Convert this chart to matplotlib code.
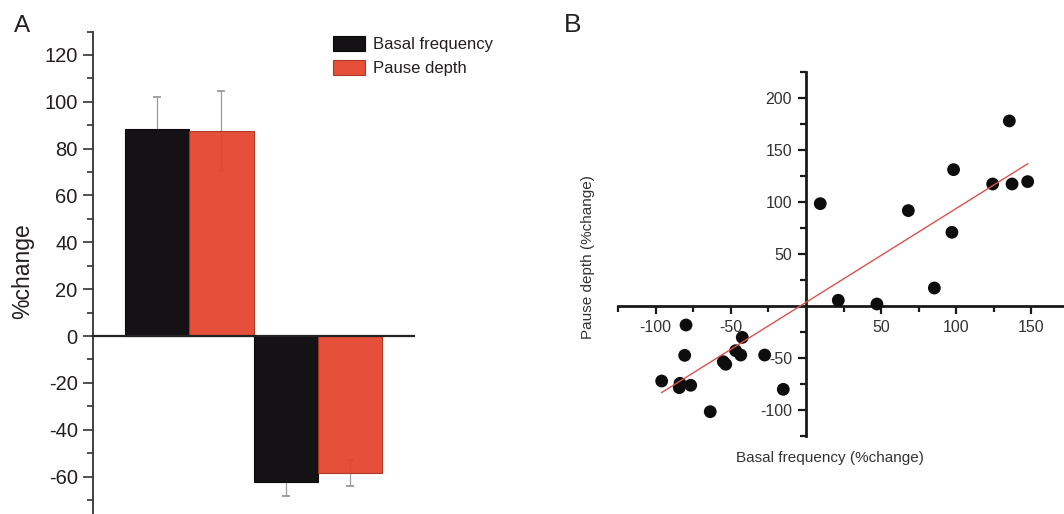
import matplotlib
matplotlib.use("Agg")
import matplotlib.pyplot as plt
import numpy as np
from matplotlib.ticker import FixedLocator

plt.rcParams['font.family'] = ['Liberation Sans', 'DejaVu Sans']

# ---------------- data ----------------
# Panel A
groups = ["increase", "decrease"]
series_names = ["Basal frequency", "Pause depth"]
basal_mean = [88.2, -62.2]
basal_err = [14.0, 6.0]
pause_mean = [87.7, -58.5]
pause_err = [17.0, 5.7]

# Panel B
basal_x = [9.5, 21.5, 47.2, 68.1, 85.4, 97.1, 98.2, 124.2, 135.3, 137.1, 147.5,
           -79.8, -80.7, -96.0, -83.8, -84.3, -76.7, -63.7, -55.0, -53.4,
           -46.8, -43.4, -42.4, -27.5, -15.1]
pause_y = [98.8, 5.8, 2.2, 92.1, 17.6, 71.2, 131.5, 117.7, 178.4, 117.7, 120.0,
           -18.0, -47.2, -71.9, -74.1, -78.3, -76.0, -101.4, -53.3, -55.8,
           -42.7, -46.9, -29.9, -46.9, -79.9]
fit_slope = 0.904
fit_intercept = 3.8

TXT = '#231f20'
BLACK = '#151215'
RED = '#e5432b'

W, H = 1064, 514
fig = plt.figure(figsize=(W / 100, H / 100), dpi=100)

def fx(px):
    return px / W

def fy(py):
    return 1 - py / H

# ---------------- Panel A ----------------
a_top, a_bot = 31.5, 518.7
axA = fig.add_axes([fx(93), fy(a_bot), fx(414) - fx(93), fy(a_top) - fy(a_bot)])
axA.set_xlim(0, 10)
axA.set_ylim(-78, 130)
centers = np.array([3.0, 7.0])
bw = 2.0
err_kw = dict(fmt='none', ecolor='#9a9a9a', elinewidth=0.9, capsize=3, capthick=1.3, zorder=1)
for means, errs, xs in [(basal_mean, basal_err, centers - bw / 2), (pause_mean, pause_err, centers + bw / 2)]:
    eb = axA.errorbar(xs, means, yerr=errs, **err_kw)
    for c in eb[1]:
        c.set_color('#555555')
axA.bar(centers - bw / 2, basal_mean, width=bw, color=BLACK, edgecolor='#0a0a0a',
        linewidth=0.8, label=series_names[0], zorder=2)
axA.bar(centers + bw / 2, pause_mean, width=bw, color=RED, edgecolor='#a8321f',
        linewidth=0.8, alpha=0.93, label=series_names[1], zorder=2)

for s in ['top', 'right']:
    axA.spines[s].set_visible(False)
axA.spines['bottom'].set_position(('data', 0))
axA.spines['bottom'].set_linewidth(1.6)
axA.spines['bottom'].set_color('#222222')
axA.spines['left'].set_linewidth(1.3)
axA.spines['left'].set_color('#333333')
axA.spines['bottom'].set_zorder(3)
axA.set_xticks([])
axA.yaxis.set_major_locator(FixedLocator([-60, -40, -20, 0, 20, 40, 60, 80, 100, 120]))
axA.yaxis.set_minor_locator(FixedLocator([-70, -50, -30, -10, 10, 30, 50, 70, 90, 110, 130]))
axA.tick_params(axis='y', which='major', direction='out', length=7, width=1.2,
                labelsize=14.5, pad=4, colors='#333333', labelcolor=TXT)
axA.tick_params(axis='y', which='minor', direction='out', length=4.3, width=1.2, colors='#333333')
axA.set_yticklabels(['-60', '-40', '-20', '0', '20', '40', '60', '80', '100', '120'])

axA.legend(loc='upper left', bbox_to_anchor=(fx(333), fy(36)), bbox_transform=fig.transFigure,
           frameon=False, fontsize=12, handlelength=1.9, handleheight=1.05, handletextpad=0.5,
           labelspacing=0.45, borderpad=0, borderaxespad=0, labelcolor=TXT)

fig.text(fx(23), fy(271), '%change', rotation=90, ha='center', va='center',
         fontsize=16.5, color=TXT)
fig.text(fx(22), fy(26.5), 'A', ha='center', va='center', fontsize=17.5, color=TXT)

# ---------------- Panel B ----------------
x0, x1 = 618.1, 1069.0
y0, y1 = 72.5, 436.2
axB = fig.add_axes([fx(x0), fy(y1), fx(x1) - fx(x0), fy(y0) - fy(y1)])
axB.set_xlim(-125, 175)
axB.set_ylim(-125, 225)
axB.scatter(basal_x, pause_y, s=85, color='#0d0d0d', edgecolors='none', zorder=3)
xf = np.array([min(basal_x), max(basal_x)])
axB.plot(xf, fit_slope * xf + fit_intercept, color='#d9534a', lw=1.0, zorder=4)

for s in ['top', 'right']:
    axB.spines[s].set_visible(False)
axB.spines['left'].set_position(('data', 0))
axB.spines['bottom'].set_position(('data', 0))
for s in ['left', 'bottom']:
    axB.spines[s].set_linewidth(2.0)
    axB.spines[s].set_color('#1a1a1a')
axB.set_xticks([-100, -50, 50, 100, 150])
axB.set_xticklabels(['-100', '-50', '50', '100', '150'])
axB.xaxis.set_minor_locator(FixedLocator([-125, -75, -25, 25, 75, 125, 175]))
axB.set_yticks([-100, -50, 50, 100, 150, 200])
axB.set_yticklabels(['-100', '-50', '50', '100', '150', '200'])
axB.yaxis.set_minor_locator(FixedLocator([-125, -75, -25, 25, 75, 125, 175, 225]))
axB.tick_params(axis='both', which='major', direction='out', length=6, width=1.6,
                labelsize=11.5, pad=4, colors='#1a1a1a', labelcolor='#333333')
axB.tick_params(axis='both', which='minor', direction='out', length=4, width=1.6, colors='#1a1a1a')

fig.text(fx(588), fy(257), 'Pause depth (%change)', rotation=90, ha='center', va='center',
         fontsize=11, color='#333333')
fig.text(fx(830), fy(458), 'Basal frequency (%change)', ha='center', va='center',
         fontsize=11, color='#333333')
fig.text(fx(573), fy(25), 'B', ha='center', va='center', fontsize=19, color=TXT)

fig.savefig('out.png', dpi=100)
